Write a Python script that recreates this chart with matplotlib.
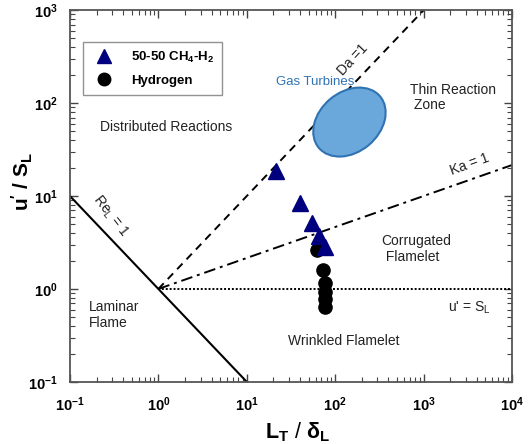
import numpy as np
import matplotlib
matplotlib.use("Agg")
import matplotlib.pyplot as plt
from matplotlib.patches import Ellipse
from matplotlib.lines import Line2D
import matplotlib.transforms as mtransforms

plt.rcParams['font.family'] = ['Liberation Sans', 'DejaVu Sans']
plt.rcParams['mathtext.fontset'] = 'custom'
plt.rcParams['mathtext.rm'] = 'Liberation Sans'
plt.rcParams['mathtext.bf'] = 'Liberation Sans:bold'
plt.rcParams['mathtext.it'] = 'Liberation Sans:italic'

# ---- data ----
ch4h2_x = [21.5, 40, 55, 66, 76]
ch4h2_y = [18.5, 8.4, 5.1, 3.7, 2.85]
h2_x = [63, 73, 77, 77, 77, 77]
h2_y = [2.6, 1.58, 1.15, 0.93, 0.78, 0.64]

xticks = [1e-1, 1e0, 1e1, 1e2, 1e3, 1e4]
xtick_labels = [r'$\mathbf{10^{-1}}$', r'$\mathbf{10^{0}}$', r'$\mathbf{10^{1}}$',
                r'$\mathbf{10^{2}}$', r'$\mathbf{10^{3}}$', r'$\mathbf{10^{4}}$']
yticks = [1e-1, 1e0, 1e1, 1e2, 1e3]
ytick_labels = [r'$\mathbf{10^{-1}}$', r'$\mathbf{10^{0}}$', r'$\mathbf{10^{1}}$',
                r'$\mathbf{10^{2}}$', r'$\mathbf{10^{3}}$']

# regime boundaries (Borghi diagram)
re_x = [0.1, 10]           # Re_L = 1 : u'/S = (L/delta)^-1
da_x = [1, 1000]           # Da = 1  : u'/S = L/delta
ka_x = [1, 1e4]            # Ka = 1  : u'/S = (L/delta)^(1/3)
ul_x = [1, 1e4]            # u' = S_L

gt_center = (145, 62.5)    # gas turbine region

fig = plt.figure(figsize=(5.30, 4.44), dpi=100)
ax = fig.add_axes([0.132, 0.140, 0.834, 0.837])
ax.set_xscale('log')
ax.set_yscale('log')
ax.set_xlim(1e-1, 1e4)
ax.set_ylim(1e-1, 1e3)

# boundary lines
ax.plot(re_x, [1.0 / v for v in re_x], color='black', lw=1.5, solid_capstyle='butt')
ax.plot(da_x, [v for v in da_x], color='black', lw=1.4, linestyle=(0, (4, 3)))
ax.plot(ka_x, [v ** (1.0 / 3.0) for v in ka_x], color='black', lw=1.4,
        linestyle=(0, (6, 2.5, 1.5, 2.5)))
ax.plot(ul_x, [1.0, 1.0], color='black', lw=1.4, linestyle=(0, (1, 1)))

# gas turbines ellipse
tr = fig.dpi_scale_trans + mtransforms.ScaledTranslation(gt_center[0], gt_center[1], ax.transData)
ell = Ellipse((0, 0), width=0.80, height=0.60, angle=40, transform=tr,
              facecolor='#6aa8dc', edgecolor='#2f73b3', lw=1.5, zorder=3)
ax.add_patch(ell)

# data
ax.plot(ch4h2_x, ch4h2_y, linestyle='none', marker='^', ms=11, color='#00007f', zorder=5)
ax.plot(h2_x, h2_y, linestyle='none', marker='o', ms=9.5, color='black', zorder=4)

# ticks
ax.set_xticks(xticks)
ax.set_xticklabels(xtick_labels, fontsize=10.5)
ax.set_yticks(yticks)
ax.set_yticklabels(ytick_labels, fontsize=10.5)
ax.tick_params(which='both', direction='in', top=True, right=True, color='#444444')
ax.tick_params(which='major', length=6, width=1.0)
ax.tick_params(which='minor', length=3.5, width=0.8)
ax.tick_params(axis='x', pad=10)
ax.tick_params(axis='y', pad=9)
for s in ax.spines.values():
    s.set_color('#555555')
    s.set_linewidth(1.3)

ax.set_xlabel(r'$\mathbf{L_T}$ / $\mathbf{\delta_L}$', fontsize=15.5)
ax.xaxis.set_label_coords(0.514, -0.105)
ax.set_ylabel(r"$\mathbf{u' \ / \ S_L}$", fontsize=15)
ax.yaxis.set_label_coords(-0.08, 0.538)

# annotations
tc = '#222222'
fs = 10
ax.text(0.068, 0.685, 'Distributed Reactions', transform=ax.transAxes, fontsize=fs, color=tc, va='center')
ax.text(0.769, 0.765, 'Thin Reaction\n Zone', transform=ax.transAxes, fontsize=fs, color=tc, va='center', linespacing=1.05)
ax.text(0.466, 0.806, 'Gas Turbines', transform=ax.transAxes, fontsize=9.5, color='#2f73b3', va='center')
ax.text(0.705, 0.357, 'Corrugated\n Flamelet', transform=ax.transAxes, fontsize=fs, color=tc, va='center', linespacing=1.15)
ax.text(0.855, 0.2, "u' = S$_\\mathrm{L}$", transform=ax.transAxes, fontsize=fs, color=tc, va='center')
ax.text(0.043, 0.18, 'Laminar\nFlame', transform=ax.transAxes, fontsize=fs, color=tc, va='center', linespacing=1.15)
ax.text(0.493, 0.11, 'Wrinkled Flamelet', transform=ax.transAxes, fontsize=fs, color=tc, va='center')
ax.text(0.092, 0.447, 'Re$_\\mathrm{L}$ = 1', transform=ax.transAxes, fontsize=fs, color=tc,
        va='center', ha='center', rotation=-52, rotation_mode='anchor')
ax.text(0.64, 0.868, 'Da =1', transform=ax.transAxes, fontsize=fs, color=tc,
        va='center', ha='center', rotation=47, rotation_mode='anchor')
ax.text(0.905, 0.585, 'Ka = 1', transform=ax.transAxes, fontsize=fs, color=tc,
        va='center', ha='center', rotation=20, rotation_mode='anchor')

# legend
handles = [Line2D([], [], linestyle='none', marker='^', ms=10, color='#00007f'),
           Line2D([], [], linestyle='none', marker='o', ms=9, color='black')]
leg = ax.legend(handles, ['50-50 CH$_\\mathbf{4}$-H$_\\mathbf{2}$', 'Hydrogen'],
                loc='upper left', bbox_to_anchor=(0.03, 0.915), frameon=True, fancybox=False,
                prop={'weight': 'bold', 'size': 9.5}, borderpad=0.6, handletextpad=1.0,
                labelspacing=0.75, borderaxespad=0)
leg.get_frame().set_edgecolor('#777777')
leg.get_frame().set_linewidth(1.0)

fig.savefig('out.png', dpi=100)
